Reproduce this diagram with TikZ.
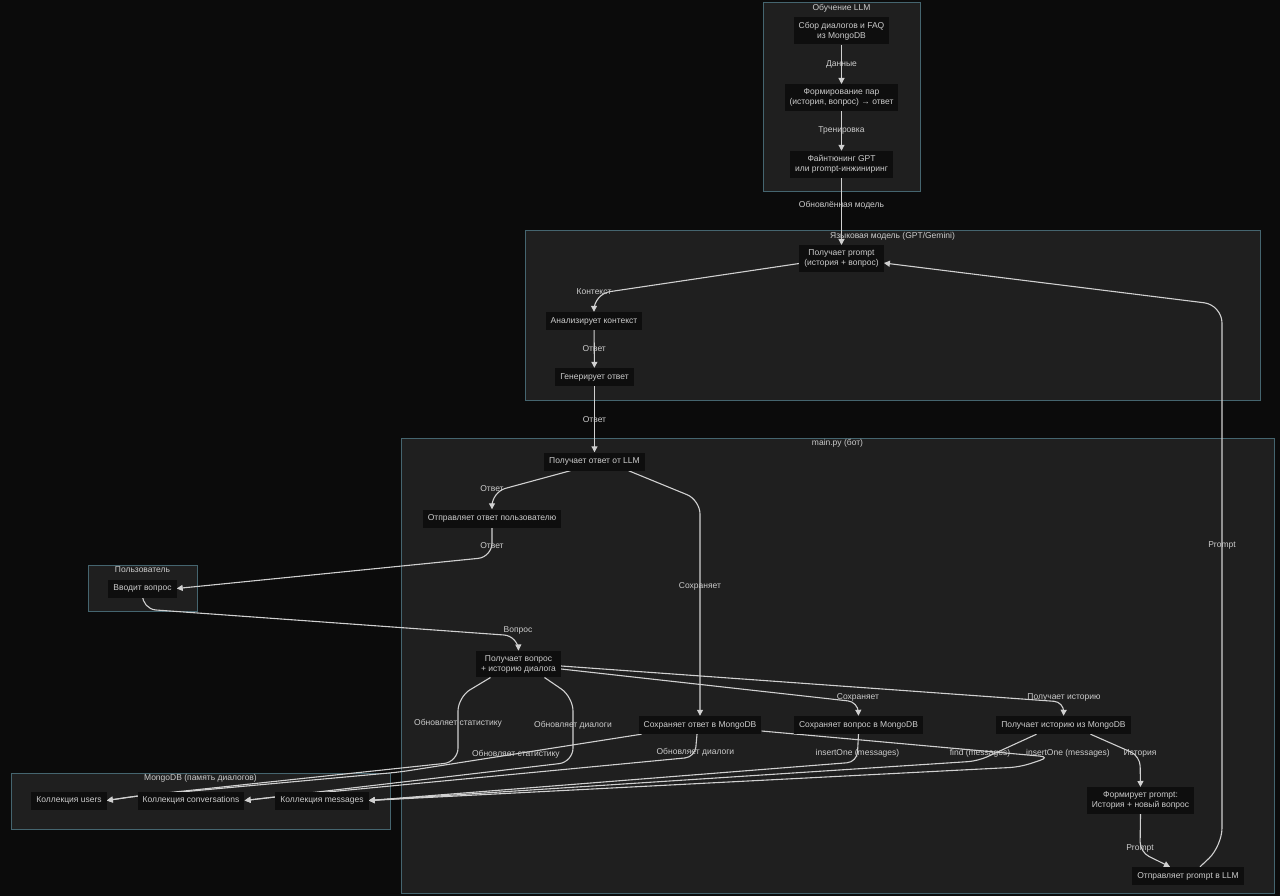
\documentclass[tikz,border=0pt]{standalone}
\usepackage{fontspec}
\setmainfont{Liberation Sans}
\usetikzlibrary{positioning,arrows.meta}
\definecolor{bgc}{HTML}{0B0B0B}
\definecolor{grpc}{HTML}{1F1F1F}
\definecolor{grpline}{HTML}{45656F}
\definecolor{boxc}{HTML}{0E0E0E}
\definecolor{txtc}{HTML}{CCCCCC}
\definecolor{linec}{HTML}{D0D0D0}
\pgfdeclarelayer{back}
\pgfdeclarelayer{edges}
\pgfsetlayers{back,edges,main}
\tikzset{proc/.style={fill=boxc, text=txtc, font=\fontsize{8.5}{10}\selectfont, align=center, inner xsep=5pt, inner ysep=4.5pt, minimum height=18pt},
	lbl/.style={text=txtc, font=\fontsize{8.5}{10}\selectfont, inner sep=1pt},
	grp/.style={draw=grpline, fill=grpc, line width=1pt},
	grptitle/.style={text=txtc, font=\fontsize{8.5}{10}\selectfont, anchor=north, inner sep=1.5pt},
	flow/.style={draw=linec, line width=1.1pt, rounded corners=10pt, -{Triangle[length=6pt,width=6pt]}}}

\begin{document}
\begin{tikzpicture}[x=1pt,y=-1pt]
				\useasboundingbox (0,0) rectangle (1280,896);
				\begin{pgfonlayer}{back}
				\fill[bgc] (0,0) rectangle (1280,896);
				\draw[grp] (763,3) rectangle (920,192);
				\draw[grp] (525,231) rectangle (1260,400);
				\draw[grp] (401,438) rectangle (1274,893);
				\draw[grp] (88,565) rectangle (197,611);
				\draw[grp] (11,773) rectangle (390,829);
				\end{pgfonlayer}

				\node[grptitle] (ttrain) at (841.5,3) {Обучение LLM};
				\node[grptitle] (tllm)   at (892.5,231) {Языковая модель (GPT/Gemini)};
				\node[grptitle] (tbot)   at (837.5,438) {main.py (бот)};
				\node[grptitle] (tuser)  at (142.5,565) {Пользователь};
				\node[grptitle] (tmongo) at (200.5,773) {MongoDB (память диалогов)};

				\node[proc] (collect)      at (841.5,31)    {Сбор диалогов и FAQ\\из MongoDB};
				\node[proc] (pairs)        at (841.5,97.5)  {Формирование пар\\(история, вопрос) → ответ};
				\node[proc] (tune)         at (841.5,164.5) {Файнтюнинг GPT\\или prompt-инжиниринг};
				\node[proc] (getprompt)    at (841.5,258.5) {Получает prompt\\(история + вопрос)};
				\node[proc] (analyse)      at (594,321)     {Анализирует контекст};
				\node[proc] (generate)     at (594.5,377)   {Генерирует ответ};
				\node[proc] (getanswer)    at (594.5,461.5) {Получает ответ от LLM};
				\node[proc] (sendanswer)   at (492,518.5)   {Отправляет ответ пользователю};
				\node[proc] (ask)          at (142.5,588.5) {Вводит вопрос};
				\node[proc] (getquestion)  at (518.5,664)   {Получает вопрос\\+ историю диалога};
				\node[proc] (saveanswer)   at (700,725)     {Сохраняет ответ в MongoDB};
				\node[proc] (savequestion) at (858.5,725)   {Сохраняет вопрос в MongoDB};
				\node[proc] (gethistory)   at (1063.5,725)  {Получает историю из MongoDB};
				\node[proc] (buildprompt)  at (1140.5,800.5) {Формирует prompt:\\История + новый вопрос};
				\node[proc] (sendprompt)   at (1188,876)    {Отправляет prompt в LLM};
				\node[proc] (users)        at (69,800.5)    {Коллекция users};
				\node[proc] (convs)        at (191,800.5)   {Коллекция conversations};
				\node[proc] (msgs)         at (322,800.5)   {Коллекция messages};

				\begin{pgfonlayer}{edges}
				\path[flow] (collect) -- node[lbl] {Данные} (pairs);
				\path[flow] (pairs) -- node[lbl] {Тренировка} (tune);
				\path[flow] (tune) -- node[lbl,pos=0.4] {Обновлённая модель} (getprompt);
				\path[flow,rounded corners=16pt] ([yshift=-5pt]getprompt.west) -- (594,294) node[lbl,yshift=2pt] {Контекст} -- (analyse.north);
				\path[flow] (analyse) -- node[lbl] {Ответ} (generate);
				\path[flow] (generate) -- node[lbl] {Ответ} (getanswer);
				\path[flow,rounded corners=14pt] ([xshift=-24pt]getanswer.south) -- (492,492) node[lbl,yshift=3pt] {Ответ} -- (sendanswer.north);
				\path[flow,rounded corners=14pt] ([xshift=34pt]getanswer.south) -- (700,500) -- node[lbl,pos=0.4] {Сохраняет} (saveanswer.north);
				\path[flow,rounded corners=14pt] (sendanswer.south) -- node[lbl,pos=0.6] {Ответ} (492,557) -- (ask.east);
				\path[flow,rounded corners=14pt] (ask.south) -- (142,609) -- (518,636) node[lbl,yshift=6pt] {Вопрос} -- (getquestion.north);
				\path[flow] ([yshift=-5pt]getquestion.east) -- (858,702) node[lbl,yshift=5pt] {Сохраняет} -- (savequestion.north);
				\path[flow] ([yshift=-2pt]getquestion.east) -- (1064,702) node[lbl,yshift=5pt] {Получает историю} -- (gethistory.north);
				\path[flow,rounded corners=14pt] ([xshift=-28pt]getquestion.south) -- (458,697) -- node[lbl,pos=0.4] {Обновляет статистику} (458,762) -- (137,796) -- (users.east);
				\path[flow,rounded corners=14pt] ([xshift=26pt]getquestion.south) -- (573,697) -- node[lbl,pos=0.43] {Обновляет диалоги} (573,762) -- (275,797) -- (convs.east);
				\path[flow] ([xshift=3pt]saveanswer.south west) -- node[lbl,pos=0.52] {Обновляет статистику} (400,772) -- (137,796) -- (users.east);
				\path[flow] ([xshift=-3pt]saveanswer.south) -- node[lbl,pos=0.8] {Обновляет диалоги} (695,757) -- (275,797) -- (convs.east);
				\path[flow] (savequestion.south) -- node[lbl,pos=0.68] {insertOne (messages)} (857,762) -- (msgs.east);
				\path[flow] ([xshift=-27pt]gethistory.south) -- (978,761) node[lbl,xshift=2pt,yshift=8pt] {find (messages)} -- (msgs.east);
				\path[flow] ([yshift=-6pt]saveanswer.east) -- (1050,757) node[lbl,xshift=18pt,yshift=4pt] {insertOne (messages)} -- (1020,767) -- (msgs.east);
				\path[flow] ([xshift=27pt]gethistory.south) -- (1140,756) node[lbl,yshift=3pt] {История} -- (buildprompt.north);
				\path[flow] (buildprompt.south) -- (1140,852) node[lbl,yshift=4pt] {Prompt} -- ([xshift=-18pt]sendprompt.north);
				\path[flow,rounded corners=18pt] ([xshift=12pt]sendprompt.north) -- (1222,846) -- node[lbl,pos=0.556] {Prompt} (1222,305) -- ([yshift=-4.5pt]getprompt.east);
				\end{pgfonlayer}

			\end{tikzpicture}
\end{document}
